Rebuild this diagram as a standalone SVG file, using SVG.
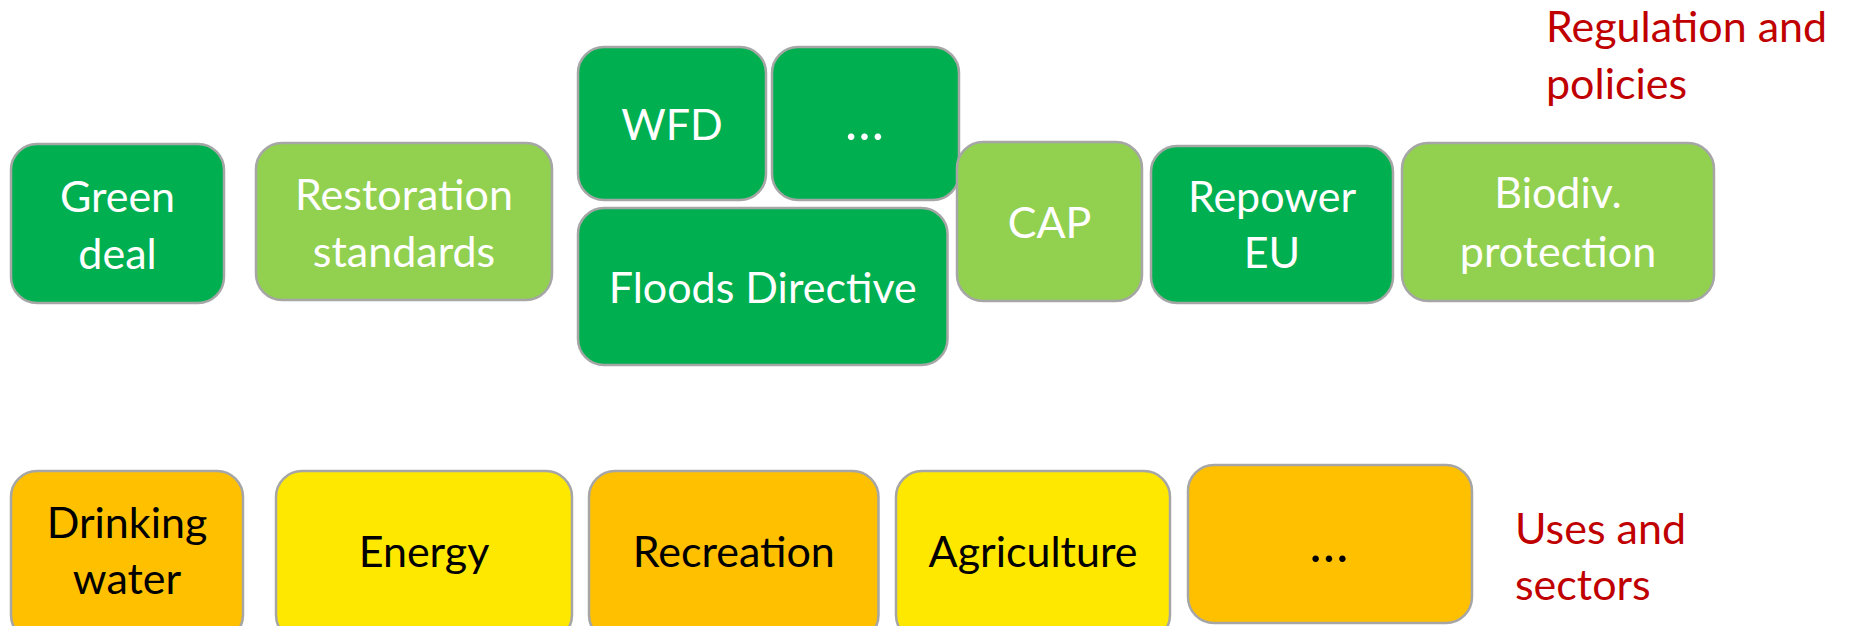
<svg xmlns="http://www.w3.org/2000/svg" width="1849" height="626" viewBox="0 0 1849 626">
<style>
  .box{stroke:#A6A6A6;stroke-width:2.5}
  .dg{fill:#00B050}
  .lg{fill:#92D050}
  .or{fill:#FFC000}
  .ye{fill:#FFE800}
  text{font-family:Lato,"Open Sans","Liberation Sans",sans-serif;font-size:43px;text-anchor:middle}
  .w{fill:#FFFFFF}
  .k{fill:#000000}
  .ell{font-size:52px;letter-spacing:2px}
  .red{fill:#C00000;text-anchor:start}
</style>
<rect width="1849" height="626" fill="#FFFFFF"/>
<g id="connectors"></g>
<g id="green-deal">
  <rect class="box dg" x="11" y="144" width="213" height="159" rx="26"/>
  <text class="w" x="117.5" y="212">Green</text>
  <text class="w" x="117.5" y="269">deal</text>
</g>
<g id="restoration-standards">
  <rect class="box lg" x="256" y="143" width="296" height="157" rx="26"/>
  <text class="w" x="404" y="210">Restoration</text>
  <text class="w" x="404" y="267">standards</text>
</g>
<g id="wfd">
  <rect class="box dg" x="578" y="47" width="188" height="153" rx="26"/>
  <text class="w" x="672" y="140">WFD</text>
</g>
<g id="more-policies">
  <rect class="box dg" x="772" y="47" width="187" height="153" rx="26"/>
  <text class="w ell" x="865.5" y="140">…</text>
</g>
<g id="floods-directive">
  <rect class="box dg" x="578" y="208" width="369.5" height="157" rx="26"/>
  <text class="w" x="762.75" y="303">Floods Directive</text>
</g>
<g id="cap">
  <rect class="box lg" x="957" y="142" width="185" height="159" rx="26"/>
  <text class="w" x="1049.5" y="238">CAP</text>
</g>
<g id="repower-eu">
  <rect class="box dg" x="1151" y="146" width="242" height="157" rx="26"/>
  <text class="w" x="1272" y="212">Repower</text>
  <text class="w" x="1272" y="268">EU</text>
</g>
<g id="biodiv-protection">
  <rect class="box lg" x="1402" y="143" width="312" height="158" rx="26"/>
  <text class="w" x="1558" y="208">Biodiv.</text>
  <text class="w" x="1558" y="267">protection</text>
</g>
<g id="label-regulation">
  <text class="red" x="1546" y="42">Regulation and</text>
  <text class="red" x="1546" y="99">policies</text>
</g>
<g id="drinking-water">
  <rect class="box or" x="11" y="471" width="232" height="170" rx="26"/>
  <text class="k" x="127" y="538">Drinking</text>
  <text class="k" x="127" y="594">water</text>
</g>
<g id="energy">
  <rect class="box ye" x="276" y="471" width="296" height="170" rx="26"/>
  <text class="k" x="424" y="567">Energy</text>
</g>
<g id="recreation">
  <rect class="box or" x="589" y="471" width="289.5" height="170" rx="26"/>
  <text class="k" x="733.75" y="567">Recreation</text>
</g>
<g id="agriculture">
  <rect class="box ye" x="896" y="471" width="274" height="170" rx="26"/>
  <text class="k" x="1033" y="567">Agriculture</text>
</g>
<g id="more-uses">
  <rect class="box or" x="1188" y="465" width="284" height="158" rx="26"/>
  <text class="k ell" x="1330" y="562">…</text>
</g>
<g id="label-uses">
  <text class="red" x="1515" y="544">Uses and</text>
  <text class="red" x="1515" y="600">sectors</text>
</g>
</svg>
